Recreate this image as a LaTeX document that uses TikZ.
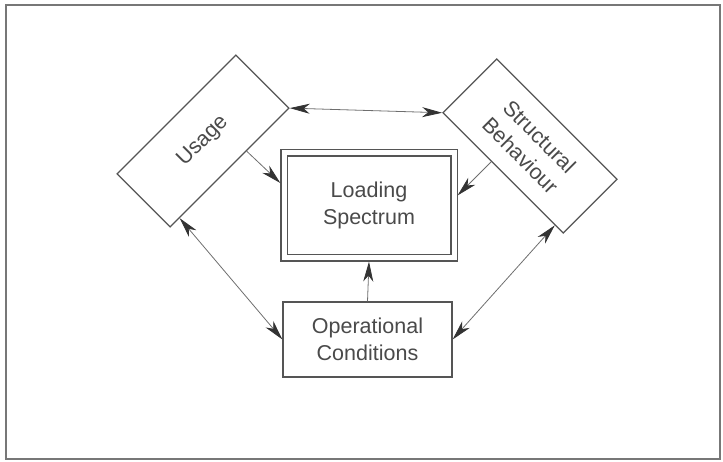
\documentclass[tikz,border=0pt]{standalone}
\usepackage{fontspec}
\setmainfont{Liberation Sans}
\usetikzlibrary{arrows.meta,calc}
\definecolor{ink}{HTML}{555555}
\definecolor{txt}{HTML}{4A4A4A}
\definecolor{tip}{HTML}{333333}
\begin{document}
\begin{tikzpicture}[x=1pt,y=-1pt,
  box/.style={draw=ink,line width=1.2pt,fill=white,align=center,text=txt,
    font=\fontsize{21.5}{27}\selectfont,inner sep=0pt},
  conn/.style={draw=ink!85,line width=0.8pt},
  tipA/.style={-{Stealth[length=20pt,width=10pt,inset=6pt,color=tip]}},
  tipB/.style={{Stealth[length=20pt,width=10pt,inset=6pt,color=tip]}-{Stealth[length=20pt,width=10pt,inset=6pt,color=tip]}}]
\useasboundingbox (0,0) rectangle (723,462);
\draw[draw=ink!80,line width=1.6pt] (6,5) rectangle (720,459);

\node[box,minimum width=168pt,minimum height=75pt,rotate=45] (U) at (203,141) {Usage};
\node[box,minimum width=170pt,minimum height=76pt,rotate=-45] (S) at (530,146) {Structural\\Behaviour};
\node[box,double,double distance=5pt,line width=1.2pt,outer sep=3.6pt,
  minimum width=170pt,minimum height=105pt] (L) at (369,205.5) {Loading\\Spectrum};
\node[box,minimum width=169pt,minimum height=75pt] (O) at (367.5,339.5) {Operational\\Conditions};

\coordinate (u1) at ($(U.south)!0.28!(U.south east)$);
\coordinate (u2) at ($(U.south)!0.84!(U.south west)$);
\coordinate (s1) at ($(S.south)!0.19!(S.south west)$);
\coordinate (s2) at ($(S.south)!0.86!(S.south east)$);
\coordinate (l1) at ($(L.north west)!0.30!(L.south west)$);
\coordinate (l2) at ($(L.north east)!0.41!(L.south east)$);

\draw[conn,tipB] (U.south east) -- (S.south west);
\draw[conn,tipA] (u1) -- (l1);
\draw[conn,tipA] (s1) -- (l2);
\draw[conn,tipA] (O.north) -- (L.south);
\draw[conn,tipB] (u2) -- (O.west);
\draw[conn,tipB] (s2) -- (O.east);
\end{tikzpicture}
\end{document}
